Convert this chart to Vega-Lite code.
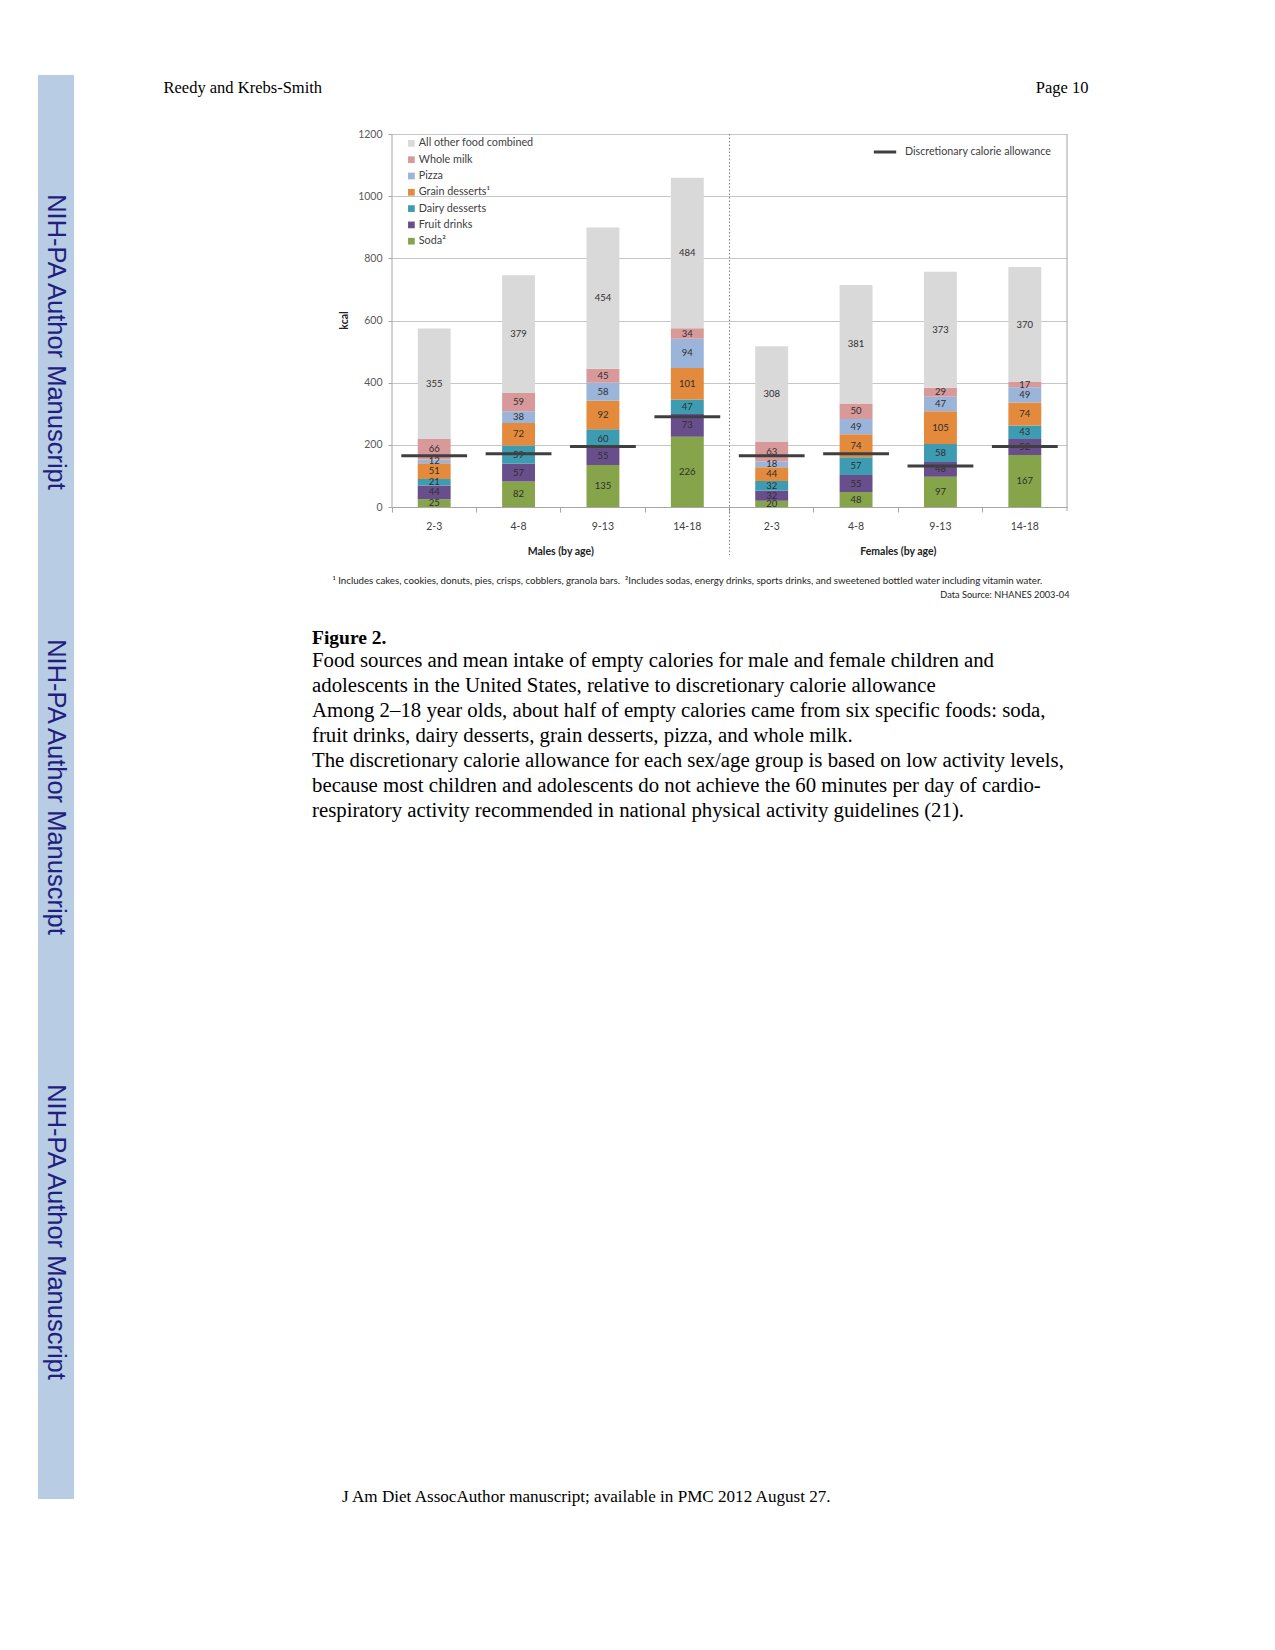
{
  "$schema": "https://vega.github.io/schema/vega-lite/v6.json",
  "background": "white",
  "padding": {"left": 38, "top": 75, "right": 20, "bottom": 20},
  "bounds": "flush",
  "spacing": 318,
  "config": {
    "font": "Lato",
    "view": {"stroke": null},
    "axis": {"labelFont": "Lato", "titleFont": "Lato"},
    "legend": {"labelFont": "Lato"}
  },
  "datasets": {
    "food": [
      {"grp": "M 2-3", "food": "Soda²", "kcal": 25, "rank": 1},
      {"grp": "M 2-3", "food": "Fruit drinks", "kcal": 44, "rank": 2},
      {"grp": "M 2-3", "food": "Dairy desserts", "kcal": 21, "rank": 3},
      {"grp": "M 2-3", "food": "Grain desserts¹", "kcal": 51, "rank": 4},
      {"grp": "M 2-3", "food": "Pizza", "kcal": 12, "rank": 5},
      {"grp": "M 2-3", "food": "Whole milk", "kcal": 66, "rank": 6},
      {"grp": "M 2-3", "food": "All other food combined", "kcal": 355, "rank": 7},
      {"grp": "M 4-8", "food": "Soda²", "kcal": 82, "rank": 1},
      {"grp": "M 4-8", "food": "Fruit drinks", "kcal": 57, "rank": 2},
      {"grp": "M 4-8", "food": "Dairy desserts", "kcal": 59, "rank": 3},
      {"grp": "M 4-8", "food": "Grain desserts¹", "kcal": 72, "rank": 4},
      {"grp": "M 4-8", "food": "Pizza", "kcal": 38, "rank": 5},
      {"grp": "M 4-8", "food": "Whole milk", "kcal": 59, "rank": 6},
      {"grp": "M 4-8", "food": "All other food combined", "kcal": 379, "rank": 7},
      {"grp": "M 9-13", "food": "Soda²", "kcal": 135, "rank": 1},
      {"grp": "M 9-13", "food": "Fruit drinks", "kcal": 55, "rank": 2},
      {"grp": "M 9-13", "food": "Dairy desserts", "kcal": 60, "rank": 3},
      {"grp": "M 9-13", "food": "Grain desserts¹", "kcal": 92, "rank": 4},
      {"grp": "M 9-13", "food": "Pizza", "kcal": 58, "rank": 5},
      {"grp": "M 9-13", "food": "Whole milk", "kcal": 45, "rank": 6},
      {"grp": "M 9-13", "food": "All other food combined", "kcal": 454, "rank": 7},
      {"grp": "M 14-18", "food": "Soda²", "kcal": 226, "rank": 1},
      {"grp": "M 14-18", "food": "Fruit drinks", "kcal": 73, "rank": 2},
      {"grp": "M 14-18", "food": "Dairy desserts", "kcal": 47, "rank": 3},
      {"grp": "M 14-18", "food": "Grain desserts¹", "kcal": 101, "rank": 4},
      {"grp": "M 14-18", "food": "Pizza", "kcal": 94, "rank": 5},
      {"grp": "M 14-18", "food": "Whole milk", "kcal": 34, "rank": 6},
      {"grp": "M 14-18", "food": "All other food combined", "kcal": 484, "rank": 7},
      {"grp": "F 2-3", "food": "Soda²", "kcal": 20, "rank": 1},
      {"grp": "F 2-3", "food": "Fruit drinks", "kcal": 32, "rank": 2},
      {"grp": "F 2-3", "food": "Dairy desserts", "kcal": 32, "rank": 3},
      {"grp": "F 2-3", "food": "Grain desserts¹", "kcal": 44, "rank": 4},
      {"grp": "F 2-3", "food": "Pizza", "kcal": 18, "rank": 5},
      {"grp": "F 2-3", "food": "Whole milk", "kcal": 63, "rank": 6},
      {"grp": "F 2-3", "food": "All other food combined", "kcal": 308, "rank": 7},
      {"grp": "F 4-8", "food": "Soda²", "kcal": 48, "rank": 1},
      {"grp": "F 4-8", "food": "Fruit drinks", "kcal": 55, "rank": 2},
      {"grp": "F 4-8", "food": "Dairy desserts", "kcal": 57, "rank": 3},
      {"grp": "F 4-8", "food": "Grain desserts¹", "kcal": 74, "rank": 4},
      {"grp": "F 4-8", "food": "Pizza", "kcal": 49, "rank": 5},
      {"grp": "F 4-8", "food": "Whole milk", "kcal": 50, "rank": 6},
      {"grp": "F 4-8", "food": "All other food combined", "kcal": 381, "rank": 7},
      {"grp": "F 9-13", "food": "Soda²", "kcal": 97, "rank": 1},
      {"grp": "F 9-13", "food": "Fruit drinks", "kcal": 48, "rank": 2},
      {"grp": "F 9-13", "food": "Dairy desserts", "kcal": 58, "rank": 3},
      {"grp": "F 9-13", "food": "Grain desserts¹", "kcal": 105, "rank": 4},
      {"grp": "F 9-13", "food": "Pizza", "kcal": 47, "rank": 5},
      {"grp": "F 9-13", "food": "Whole milk", "kcal": 29, "rank": 6},
      {"grp": "F 9-13", "food": "All other food combined", "kcal": 373, "rank": 7},
      {"grp": "F 14-18", "food": "Soda²", "kcal": 167, "rank": 1},
      {"grp": "F 14-18", "food": "Fruit drinks", "kcal": 52, "rank": 2},
      {"grp": "F 14-18", "food": "Dairy desserts", "kcal": 43, "rank": 3},
      {"grp": "F 14-18", "food": "Grain desserts¹", "kcal": 74, "rank": 4},
      {"grp": "F 14-18", "food": "Pizza", "kcal": 49, "rank": 5},
      {"grp": "F 14-18", "food": "Whole milk", "kcal": 17, "rank": 6},
      {"grp": "F 14-18", "food": "All other food combined", "kcal": 370, "rank": 7}
    ],
    "allow": [
      {"grp": "M 2-3", "allowance": 165},
      {"grp": "M 4-8", "allowance": 171},
      {"grp": "M 9-13", "allowance": 195},
      {"grp": "M 14-18", "allowance": 290},
      {"grp": "F 2-3", "allowance": 165},
      {"grp": "F 4-8", "allowance": 171},
      {"grp": "F 9-13", "allowance": 132},
      {"grp": "F 14-18", "allowance": 195}
    ],
    "sexes": [
      {"sex": "Males (by age)"},
      {"sex": "Females (by age)"}
    ]
  },
  "hconcat": [
    {
      "width": 36,
      "height": 1424,
      "view": {"fill": "#B8CCE4", "stroke": null},
      "title": {
        "text": "J Am Diet AssocAuthor manuscript; available in PMC 2012 August 27.",
        "orient": "bottom", "anchor": "start", "frame": "group",
        "dx": 304, "offset": 0, "dy": -2, "baseline": "middle", "align": "left",
        "font": "Liberation Serif", "fontSize": 17.1, "fontWeight": "normal", "color": "black"
      },
      "data": {"values": [
        {"copy": 1, "label": "NIH-PA Author Manuscript"},
        {"copy": 2, "label": "NIH-PA Author Manuscript"},
        {"copy": 3, "label": "NIH-PA Author Manuscript"}
      ]},
      "mark": {"type": "text", "angle": 90, "font": "Liberation Sans", "fontSize": 25.5, "color": "#1F1F80", "align": "center", "baseline": "middle"},
      "encoding": {
        "y": {"field": "copy", "type": "ordinal", "scale": {"type": "point", "padding": 0.6}, "axis": null},
        "x": {"field": "label", "type": "nominal", "axis": {
          "orient": "top", "title": "Reedy and Krebs-Smith", "labels": false, "ticks": false, "domain": false, "grid": false,
          "titleX": 125, "titleY": 12, "titleAngle": 0, "titleAlign": "left", "titleBaseline": "middle",
          "titleFont": "Liberation Serif", "titleFontSize": 16.5, "titleFontWeight": "normal", "titleColor": "black"
        }},
        "text": {"field": "label"}
      }
    },
    {
      "width": 675,
      "height": 432,
      "title": {
        "text": "Figure 2.",
        "subtitle": [
          "Food sources and mean intake of empty calories for male and female children and",
          "adolescents in the United States, relative to discretionary calorie allowance",
          "Among 2–18 year olds, about half of empty calories came from six specific foods: soda,",
          "fruit drinks, dairy desserts, grain desserts, pizza, and whole milk.",
          "The discretionary calorie allowance for each sex/age group is based on low activity levels,",
          "because most children and adolescents do not achieve the 60 minutes per day of cardio-",
          "respiratory activity recommended in national physical activity guidelines (21)."
        ],
        "orient": "bottom", "anchor": "start", "frame": "group", "align": "left",
        "dx": -80, "offset": 30,
        "font": "Liberation Serif", "fontSize": 19.5, "fontWeight": "bold", "color": "black",
        "subtitleFont": "Liberation Serif", "subtitleFontSize": 20.8, "subtitleColor": "black",
        "subtitleLineHeight": 25, "subtitlePadding": 2
      },
      "layer": [
        {
          "data": {"name": "food"},
          "mark": {"type": "bar", "width": {"band": 0.39}},
          "encoding": {
            "x": {"field": "grp", "type": "nominal",
              "scale": {"domain": ["M 2-3", "M 4-8", "M 9-13", "M 14-18", "F 2-3", "F 4-8", "F 9-13", "F 14-18"], "paddingInner": 0, "paddingOuter": 0},
              "axis": {
                "orient": "bottom", "bandPosition": 0, "labelOffset": 0, "labelExpr": "slice(datum.label, 2)",
                "labelFontSize": 10.5, "labelColor": "#404040", "labelPadding": 9, "labelAngle": 0,
                "tickSize": 5, "tickColor": "#a6a6a6", "domainColor": "#a6a6a6", "grid": false,
                "title": "¹ Includes cakes, cookies, donuts, pies, crisps, cobblers, granola bars.\u00a0 ²Includes sodas, energy drinks, sports drinks, and sweetened bottled water including vitamin water.",
                "titleX": -60, "titleY": 73, "titleAlign": "left", "titleAnchor": "start", "titleBaseline": "middle",
                "titleFontSize": 9.7, "titleFontWeight": "normal", "titleColor": "#222222"
              }},
            "y": {"field": "kcal", "type": "quantitative", "stack": "zero",
              "scale": {"domain": [0, 1390], "nice": false},
              "axis": {
                "orient": "left", "format": "d",
                "values": [0, 200, 400, 600, 800, 1000, 1200], "grid": true, "gridColor": "#c6c6c6", "domain": false,
                "tickSize": 4, "tickColor": "#a6a6a6", "labelFontSize": 10.5, "labelColor": "#595959", "labelPadding": 6,
                "title": "kcal", "titleFontSize": 10.5, "titleFontWeight": "bold", "titleColor": "#222222",
                "titleX": -48, "titleY": 245, "titleAlign": "center", "titleBaseline": "middle"
              }},
            "color": {"field": "food", "type": "nominal",
              "scale": {
                "domain": ["All other food combined", "Whole milk", "Pizza", "Grain desserts¹", "Dairy desserts", "Fruit drinks", "Soda²"],
                "range": ["#D9D9D9", "#D8999A", "#9BB4D9", "#E48A3C", "#3E9CB2", "#694E8C", "#86A44A"]
              },
              "legend": {
                "orient": "none", "legendX": 368, "legendY": 63, "title": null,
                "symbolType": "square", "symbolSize": 45, "symbolStrokeWidth": 0,
                "labelFontSize": 10.8, "labelColor": "#404040", "rowPadding": 4.3, "labelOffset": 2
              }},
            "order": {"field": "rank", "type": "quantitative"}
          }
        },
        {
          "data": {"name": "food"},
          "mark": {"type": "text", "fontSize": 9.5, "color": "#2e2e2e", "baseline": "middle"},
          "encoding": {
            "x": {"field": "grp", "type": "nominal",
              "scale": {"domain": ["M 2-3", "M 4-8", "M 9-13", "M 14-18", "F 2-3", "F 4-8", "F 9-13", "F 14-18"], "paddingInner": 0, "paddingOuter": 0},
              "axis": null},
            "y": {"field": "kcal", "type": "quantitative", "stack": "zero", "bandPosition": 0.5,
              "scale": {"domain": [0, 1390], "nice": false}, "axis": null},
            "detail": {"field": "food"},
            "order": {"field": "rank", "type": "quantitative"},
            "text": {"field": "kcal", "type": "quantitative"}
          }
        },
        {
          "data": {"name": "allow"},
          "mark": {"type": "rule", "strokeWidth": 3},
          "encoding": {
            "x": {"field": "grp", "type": "nominal", "bandPosition": 0.11,
              "scale": {"domain": ["M 2-3", "M 4-8", "M 9-13", "M 14-18", "F 2-3", "F 4-8", "F 9-13", "F 14-18"], "paddingInner": 0, "paddingOuter": 0},
              "axis": null},
            "x2": {"field": "grp", "bandPosition": 0.89},
            "y": {"field": "allowance", "type": "quantitative",
              "scale": {"domain": [0, 1390], "nice": false}, "axis": null},
            "stroke": {"datum": "Discretionary calorie allowance",
              "scale": {"domain": ["Discretionary calorie allowance"], "range": ["#3f3f3f"]},
              "legend": {
                "orient": "none", "legendX": 834, "legendY": 64, "title": null,
                "symbolType": "stroke", "symbolSize": 500, "symbolStrokeWidth": 3,
                "labelFontSize": 10.7, "labelColor": "#404040", "labelOffset": 7
              }}
          }
        },
        {
          "data": {"name": "sexes"},
          "transform": [{"filter": "datum.sex == 'Males (by age)'"}],
          "mark": {"type": "rule", "color": "#a6a6a6", "strokeWidth": 1},
          "encoding": {
            "x": {"field": "sex", "type": "nominal", "bandPosition": 0,
              "scale": {"domain": ["Males (by age)", "Females (by age)"], "paddingInner": 0, "paddingOuter": 0},
              "axis": {
                "orient": "bottom", "ticks": false, "domain": false, "grid": false,
                "labelFontSize": 10.5, "labelFontWeight": "bold", "labelColor": "#222222", "labelPadding": 39, "labelAngle": 0,
                "title": "Data Source: NHANES 2003-04", "titleX": 677, "titleY": 87, "titleAlign": "right", "titleAnchor": "end",
                "titleBaseline": "middle", "titleFontSize": 9.2, "titleFontWeight": "normal", "titleColor": "#222222"
              }},
            "y": {"datum": 0, "type": "quantitative", "scale": {"domain": [0, 1390], "nice": false},
              "axis": {
                "orient": "right", "labels": false, "ticks": false, "domain": false, "grid": false,
                "title": "Page 10", "titleAngle": 0, "titleX": 21, "titleY": 12, "titleAlign": "right", "titleBaseline": "middle",
                "titleFont": "Liberation Serif", "titleFontSize": 16.5, "titleFontWeight": "normal", "titleColor": "black"
              }},
            "y2": {"datum": 1200}
          }
        },
        {
          "data": {"name": "sexes"},
          "transform": [{"filter": "datum.sex == 'Females (by age)'"}],
          "mark": {"type": "rule", "color": "#7f7f7f", "strokeWidth": 1, "strokeDash": [1.5, 2]},
          "encoding": {
            "x": {"field": "sex", "type": "nominal", "bandPosition": 0,
              "scale": {"domain": ["Males (by age)", "Females (by age)"], "paddingInner": 0, "paddingOuter": 0},
              "axis": null},
            "y": {"datum": 1200, "type": "quantitative", "scale": {"domain": [0, 1390], "nice": false}, "axis": null},
            "y2": {"datum": -155}
          }
        },
        {
          "data": {"name": "sexes"},
          "transform": [{"filter": "datum.sex == 'Females (by age)'"}],
          "mark": {"type": "rule", "color": "#a6a6a6", "strokeWidth": 1},
          "encoding": {
            "x": {"field": "sex", "type": "nominal", "bandPosition": 1,
              "scale": {"domain": ["Males (by age)", "Females (by age)"], "paddingInner": 0, "paddingOuter": 0},
              "axis": null},
            "y": {"datum": -13, "type": "quantitative", "scale": {"domain": [0, 1390], "nice": false}, "axis": null},
            "y2": {"datum": 1200}
          }
        }
      ],
      "resolve": {"scale": {"x": "independent", "y": "independent"}}
    }
  ]
}
